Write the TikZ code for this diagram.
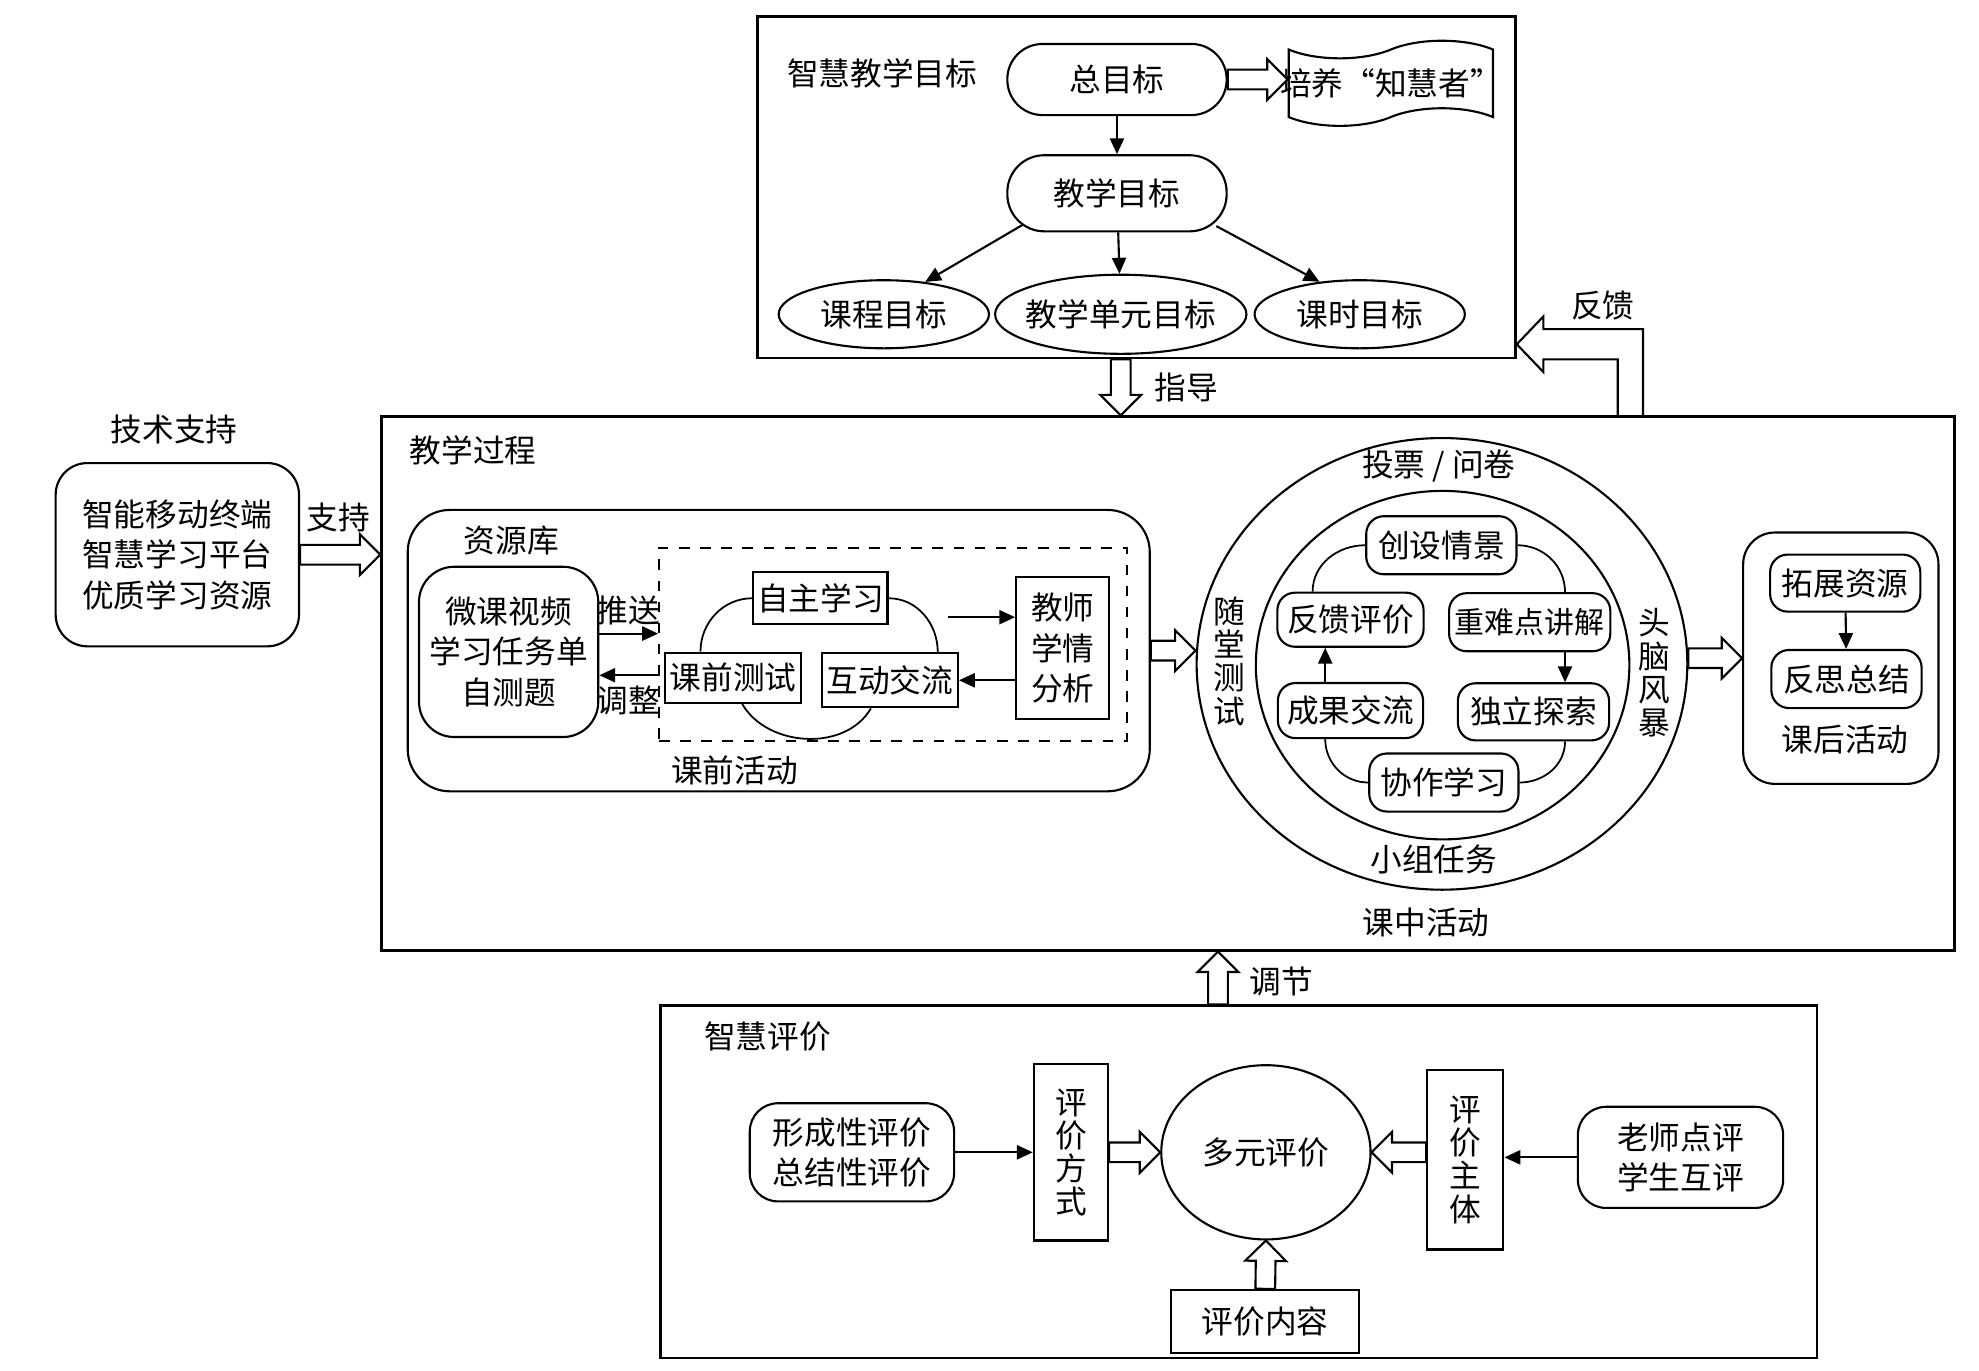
\documentclass[tikz,border=0pt]{standalone}
\usepackage{fontspec}
\setmainfont{Noto Sans CJK SC}
\usepackage{tikz}
\usetikzlibrary{shapes.geometric, shapes.misc, shapes.symbols, shapes.arrows, arrows.meta, positioning, calc}
\tikzset{
    panel/.style={
        rectangle,
        draw=black,
        line width=0.7pt,
        inner sep=0pt
    },
    box/.style={
        rectangle,
        draw=black,
        line width=0.6pt,
        inner sep=1pt,
        align=center
    },
    rbox/.style={
        box,
        rounded corners=5pt
    },
    stadium/.style={
        rectangle,
        rounded corners=10pt,
        draw=black,
        line width=0.6pt
    },
    oval/.style={
        ellipse,
        draw=black,
        line width=0.6pt,
        inner xsep=-0.4cm,
        inner ysep=0pt
    },
    vtext/.style={
        align=center,
        font=\fontsize{9pt}{9.4pt}\selectfont
    },
    txt/.style={
        inner sep=0pt,
        align=center
    },
    wire/.style={
        draw=black,
        line width=0.6pt,
        -{Triangle[length=4.5pt,width=4pt]}
    },
    loopline/.style={
        draw=black,
        line width=0.5pt
    },
    hollow/.style={
        single arrow,
        draw=black,
        fill=white,
        line width=0.6pt,
        inner sep=0pt,
        inner ysep=2.5pt,
        outer sep=0pt,
        single arrow head extend=3pt
    }
}
% hollow block arrow from #1 to #2
\newcommand{\blockarrow}[2]{%
  \path let \p1=($(#2)-(#1)$), \n1={veclen(\x1,\y1)} in
    (#1) -- node[hollow, sloped, allow upside down, pos=0, anchor=tail, minimum height=\n1] {} (#2);}

\begin{document}
\begin{tikzpicture}[x=0.0126cm, y=-0.0126cm, font=\fontsize{9pt}{11.5pt}\selectfont]
\useasboundingbox (0,0) rectangle (1568,1086);

% Top - teaching goals
\node[panel, minimum width=7.57cm, minimum height=3.41cm] (goalframe) at (900.5,148.5) {};
\node[txt] (goaltitle) at (699,58) {智慧教学目标};
\node[stadium, minimum width=2.19cm, minimum height=0.71cm] (zong) at (885,63) {总目标};
\node[tape, draw=black, line width=0.6pt, minimum width=2.04cm, minimum height=0.85cm, inner xsep=-3pt, inner ysep=0pt] (peiyang) at (1102,66) {培养“知慧者”};
\node[stadium, rounded corners=10.5pt, minimum width=2.19cm, minimum height=0.76cm, below=0.38cm of zong] (jxmb) {教学目标};
\node[oval, minimum width=2.51cm, minimum height=0.79cm] (unitgoal) at (888,249) {教学单元目标};
\node[oval, minimum width=2.10cm, minimum height=0.68cm, left=0.04cm of unitgoal] (coursegoal) {课程目标};
\node[oval, minimum width=2.10cm, minimum height=0.68cm, right=0.06cm of unitgoal] (lessongoal) {课时目标};

\blockarrow{zong.east}{zong.east -| peiyang.west}
\draw[wire] (zong) -- (jxmb);
\coordinate (jxmbL) at ($(jxmb.south west)+(13,-6)$);
\coordinate (jxmbR) at ($(jxmb.south east)+(-9,-5)$);
\draw[wire] (jxmbL) -- (coursegoal.38);
\draw[wire] (jxmb) -- (unitgoal);
\draw[wire] (jxmbR) -- (lessongoal.141);

% Middle - teaching process
\node[panel, minimum width=15.71cm, minimum height=5.33cm] (procframe) at (925.5,541.5) {};
\node[txt] (proctitle) at (375,357) {教学过程};

\blockarrow{unitgoal |- goalframe.south}{unitgoal |- procframe.north}
\node[txt] (guidelabel) at (940,307) {指导};

\coordinate (fbtip) at ($(goalframe.south east)+(0,-12)$);
\draw[line width=0.6pt] (fbtip) ++(80,58) -- ++(0,-46) -- ++(-59,0) -- ++(0,10) -- (fbtip)
    -- ++(21,-22) -- ++(0,10) -- ++(79,0) -- ++(0,70);
\node[txt] (fblabel) at (1270,242) {反馈};

% Left - technology
\node[txt] (techtitle) at (138,340) {技术支持};
\node[rbox, rounded corners=9pt, minimum width=2.43cm, minimum height=1.83cm] (tech) at (140.5,439.5) {智能移动终端\\智慧学习平台\\优质学习资源};
\blockarrow{tech.east}{tech.east -| procframe.west}
\node[txt] (techlabel) at (268,410) {支持};

% Before class
\node[rbox, rounded corners=12pt, minimum width=7.41cm, minimum height=2.81cm] (preframe) at (617,515.5) {};
\node[txt] (restitle) at (405,428) {资源库};
\node[txt] (pretitle) at (582,610) {课前活动};
\node[rbox, rounded corners=10pt, minimum width=1.79cm, minimum height=1.70cm] (res) at (403,516.5) {微课视频\\学习任务单\\自测题};
\node[box, dashed, minimum width=4.67cm, minimum height=1.93cm] (dashbox) at (707.5,510.5) {};
\node[box, minimum width=1.34cm, minimum height=0.52cm] (selfstudy) at (650,474) {自主学习};
\node[box, minimum width=1.36cm, minimum height=0.50cm] (pretest) at (581,537) {课前测试};
\node[box, minimum width=1.36cm, minimum height=0.54cm] (interact) at (705,539) {互动交流};
\node[box, minimum width=0.93cm, minimum height=1.42cm] (analysis) at (842,513.5) {教师\\学情\\分析};

\coordinate (pushS) at ($(res.east)+(0,-14.5)$);
\draw[wire] (pushS) -- (pushS -| dashbox.west);
\node[txt] (pushlabel) at (498,484) {推送};
\coordinate (adjE) at ($(res.east)+(0,18.5)$);
\draw[wire] (adjE -| dashbox.west) -- (adjE);
\node[txt] (adjlabel) at (498,555) {调整};
\coordinate (fxin) at ($(analysis.west)+(-53,-24.5)$);
\draw[wire] (fxin) -- (fxin -| analysis.west);
\draw[wire] (analysis.west |- interact.east) -- (interact.east);

\draw[loopline] ($(pretest.north)+(-26,0)$) to[out=90, in=180] (selfstudy.west);
\draw[loopline] (selfstudy.east) to[out=0, in=90] ($(interact.north)+(38,0)$);
\draw[loopline] ($(interact.south)+(-15,0)$) to[out=-120, in=-60] ($(pretest.south)+(7,0)$);

% In class
\node[oval, minimum width=4.90cm, minimum height=4.51cm] (outer) at (1142.5,526) {};
\node[oval, minimum width=3.73cm, minimum height=3.48cm] (inner) at (1143,527) {};
\blockarrow{preframe.east}{preframe.east -| outer.west}
\node[txt] (votelabel) at (1140,369) {投票 / 问卷};
\node[txt] (grouplabel) at (1136,681) {小组任务};
\node[vtext] (quizlabel) at (974,524) {随\\堂\\测\\试};
\node[vtext] (stormlabel) at (1311,533) {头\\脑\\风\\暴};

\node[rbox, minimum width=1.50cm, minimum height=0.58cm] (scene) at (1142,432) {创设情景};
\node[rbox, minimum width=1.46cm, minimum height=0.54cm] (feedback) at (1070,491) {反馈评价};
\node[rbox, minimum width=1.61cm, minimum height=0.58cm, font=\fontsize{8.5pt}{10pt}\selectfont] (keypoint) at (1212,493) {重难点讲解};
\node[rbox, minimum width=1.45cm, minimum height=0.55cm] (share) at (1070,563) {成果交流};
\node[rbox, minimum width=1.51cm, minimum height=0.57cm] (explore) at (1215,564) {独立探索};
\node[rbox, minimum width=1.49cm, minimum height=0.58cm] (coop) at (1144,620) {协作学习};

\coordinate (upA) at ($(share.north)+(-20,0)$);
\draw[wire] (upA) -- (upA |- feedback.south);
\coordinate (dnA) at ($(keypoint.south)+(28,0)$);
\draw[wire] (dnA) -- (dnA |- explore.north);
\draw[loopline] ($(feedback.north)+(-30,0)$) to[out=90, in=180] (scene.west);
\draw[loopline] (scene.east) to[out=0, in=90] ($(keypoint.north)+(28,0)$);
\draw[loopline] ($(explore.south)+(25,0)$) to[out=-90, in=0] (coop.east);
\draw[loopline] (coop.west) to[out=180, in=-90] ($(share.south)+(-20,0)$);
\node[txt] (inlabel) at (1130,731) {课中活动};

% After class
\node[rbox, rounded corners=9pt, minimum width=1.95cm, minimum height=2.51cm] (post) at (1458.5,521.5) {};
\node[rbox, minimum width=1.50cm, minimum height=0.57cm] (extend) at (1462,462) {拓展资源};
\node[rbox, minimum width=1.50cm, minimum height=0.58cm] (reflect) at (1463,538) {反思总结};
\draw[wire] (extend) -- (reflect);
\node[txt] (postlabel) at (1462,586) {课后活动};
\blockarrow{post.west -| outer.east}{post.west}

% Bottom - evaluation
\node[panel, minimum width=11.55cm, minimum height=3.52cm] (evalframe) at (981.5,936.5) {};
\node[txt] (evaltitle) at (608,821) {智慧评价};
\coordinate (adjS) at ($(evalframe.north)+(-16.5,0)$);
\blockarrow{adjS}{adjS |- procframe.south}
\node[txt] (tunelabel) at (1015,778) {调节};

\node[rbox, rounded corners=8pt, minimum width=2.04cm, minimum height=0.98cm] (formtype) at (675,913) {形成性评价\\总结性评价};
\node[box, vtext, minimum width=0.74cm, minimum height=1.76cm] (method) at (848.5,913) {评\\价\\方\\式};
\node[oval, minimum width=2.09cm, minimum height=1.74cm] (multi) at (1003,913) {多元评价};
\node[box, vtext, minimum width=0.76cm, minimum height=1.79cm] (subject) at (1161,919) {评\\价\\主\\体};
\node[rbox, rounded corners=8pt, minimum width=2.05cm, minimum height=1.01cm] (raters) at (1331.5,917) {老师点评\\学生互评};
\node[box, minimum width=1.88cm, minimum height=0.63cm] (content) at (1002.5,1047) {评价内容};

\draw[wire] (formtype.east) -- (formtype.east -| method.west);
\blockarrow{method.east}{method.east -| multi.west}
\blockarrow{subject.west |- multi.east}{multi.east}
\draw[wire] (raters.west) -- (raters.west -| subject.east);
\blockarrow{content.north}{multi.south}

\end{tikzpicture}
\end{document}
